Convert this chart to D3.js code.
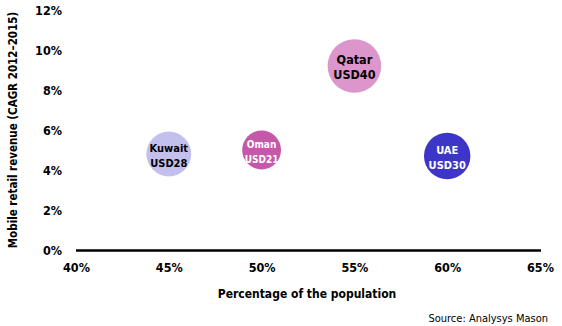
<!DOCTYPE html>
<html>
<head>
<meta charset="utf-8">
<script src="https://cdn.jsdelivr.net/npm/d3@7"></script>
<style>
  html, body { margin: 0; padding: 0; background: #fff; }
  svg text { font-family: "DejaVu Sans", sans-serif; font-stretch: condensed; font-weight: bold; }
</style>
</head>
<body>
<svg id="chart" width="562" height="326"></svg>
<script>
// Countries, their position (share of population, revenue CAGR) and bubble value
const countries = ["Kuwait", "Oman", "Qatar", "UAE"];
const population = [45, 50, 55, 60];        // % of the population
const cagr = [4.8, 5.0, 9.2, 4.7];          // mobile retail revenue CAGR 2012–2015, %
const spend = [28, 21, 40, 30];             // USD
const fills = ["#c3c0ee", "#c558a8", "#dd96cc", "#3c35c8"];
const textColors = ["#000", "#fff", "#000", "#fff"];

const xTicks = [40, 45, 50, 55, 60, 65];
const yTicks = [0, 2, 4, 6, 8, 10, 12];

const svg = d3.select("#chart");

const x = d3.scaleLinear().domain([40, 65]).range([76, 540]);
const y = d3.scaleLinear().domain([0, 12]).range([250, 10]);
const r = d3.scaleSqrt().domain([0, 40]).range([0, 26.8]);

// Baseline
svg.append("line")
  .attr("x1", x(40)).attr("x2", x(65) + 1)
  .attr("y1", y(0) + 0.5).attr("y2", y(0) + 0.5)
  .attr("stroke", "#000").attr("stroke-width", 2.5);

// Y axis labels
const yAxis = d3.axisLeft(y).tickValues(yTicks).tickFormat(d => d + "%").tickSize(0).tickPadding(0);
svg.append("g")
  .attr("transform", "translate(62,0)")
  .call(yAxis)
  .call(g => g.select(".domain").remove())
  .call(g => g.attr("font-family", null))
  .call(g => g.selectAll("text").attr("font-size", 12.5).attr("fill", "#000")
    .attr("dy", "0.35em"));

// X axis labels
const xAxis = d3.axisBottom(x).tickValues(xTicks).tickFormat(d => d + "%").tickSize(0).tickPadding(0);
svg.append("g")
  .attr("transform", "translate(0,263)")
  .call(xAxis)
  .call(g => g.select(".domain").remove())
  .call(g => g.attr("font-family", null))
  .call(g => g.selectAll("text").attr("font-size", 12.5).attr("fill", "#000")
    .attr("dy", "0.71em"));

// Bubbles
const data = countries.map((c, i) => ({
  name: c, px: population[i], cagr: cagr[i], v: spend[i], fill: fills[i], tc: textColors[i]
}));

const bubbles = svg.append("g").selectAll("g").data(data).join("g")
  .attr("transform", d => `translate(${x(d.px)},${y(d.cagr)})`);

bubbles.append("circle")
  .attr("r", d => r(d.v))
  .attr("fill", d => d.fill);

bubbles.append("text")
  .attr("text-anchor", "middle")
  .attr("fill", d => d.tc)
  .attr("font-size", d => d.v >= 40 ? 12.5 : (d.v < 25 ? 10 : 11))
  .selectAll("tspan")
  .data(d => [d.name, "USD" + d.v])
  .join("tspan")
  .attr("x", 0)
  .attr("y", (t, i) => i === 0 ? -2 : 13)
  .text(t => t);

// Axis titles
svg.append("text")
  .attr("transform", `translate(17,${y(6)}) rotate(-90)`)
  .attr("text-anchor", "middle")
  .attr("font-size", 11.5)
  .text("Mobile retail revenue (CAGR 2012–2015)");

svg.append("text")
  .attr("x", 307)
  .attr("y", 298)
  .attr("text-anchor", "middle")
  .attr("font-size", 12)
  .text("Percentage of the population");

svg.append("text")
  .attr("x", 548)
  .attr("y", 322)
  .attr("text-anchor", "end")
  .attr("font-size", 11)
  .style("font-weight", "normal")
  .text("Source: Analysys Mason");
</script>
</body>
</html>
